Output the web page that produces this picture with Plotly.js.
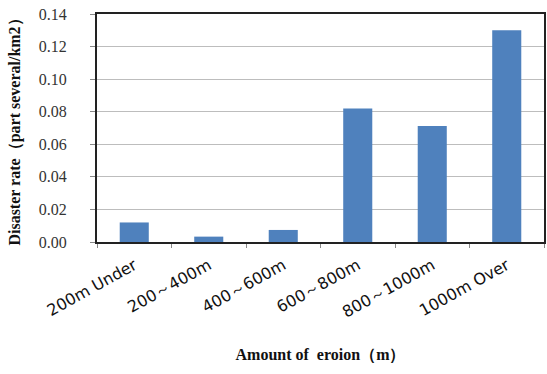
<!DOCTYPE html>
<html><head><meta charset="utf-8">
<script src="https://cdn.plot.ly/plotly-3.0.1.min.js"></script>
<style>html,body{margin:0;padding:0;background:#fff}</style>
</head><body>
<div id="chart" style="width:547px;height:374px"></div>
<script>
var categories = ["200m Under", "200～400m", "400～600m", "600～800m", "800～1000m", "1000m Over"];
var rates = [0.012, 0.0033, 0.0074, 0.082, 0.0712, 0.130];
var yTicks = [0, 0.02, 0.04, 0.06, 0.08, 0.10, 0.12, 0.14];

var trace = {
  type: "bar", x: categories, y: rates,
  marker: {color: "#4F81BD"}, hoverinfo: "skip"
};
var layout = {
  width: 547, height: 374,
  margin: {l: 97, r: 3, t: 14, b: 132},
  paper_bgcolor: "#fff", plot_bgcolor: "#fff",
  showlegend: false, bargap: 0.61,
  xaxis: {
    type: "category", tickson: "boundaries", ticks: "outside", ticklen: 4,
    tickcolor: "#888", tickangle: -29, ticklabelstandoff: 6,
    tickfont: {family: "DejaVu Sans, Verdana, sans-serif", size: 16, color: "#111"},
    showline: true, linecolor: "#222", linewidth: 2, mirror: true,
    showgrid: false, zeroline: false,
    title: {text: "<b>Amount of  eroion（m）</b>", standoff: 28,
            font: {family: "Liberation Serif, Times New Roman, serif", size: 16, color: "#111"}}
  },
  yaxis: {
    range: [0, 0.14], tickvals: yTicks, tickformat: ".2f",
    ticks: "outside", ticklen: 5, tickcolor: "#888", ticklabelstandoff: 20,
    tickfont: {family: "Liberation Serif, Times New Roman, serif", size: 16, color: "#333"},
    showline: true, linecolor: "#222", linewidth: 2, mirror: true,
    showgrid: true, gridcolor: "#bdbdbd", gridwidth: 1, zeroline: false,
    title: {text: "<b>Disaster rate（part several/km2）</b>", standoff: 14,
            font: {family: "Liberation Serif, Times New Roman, serif", size: 16, color: "#111"}}
  }
};
Plotly.newPlot("chart", [trace], layout, {staticPlot: true, displayModeBar: false});
</script>
</body></html>
